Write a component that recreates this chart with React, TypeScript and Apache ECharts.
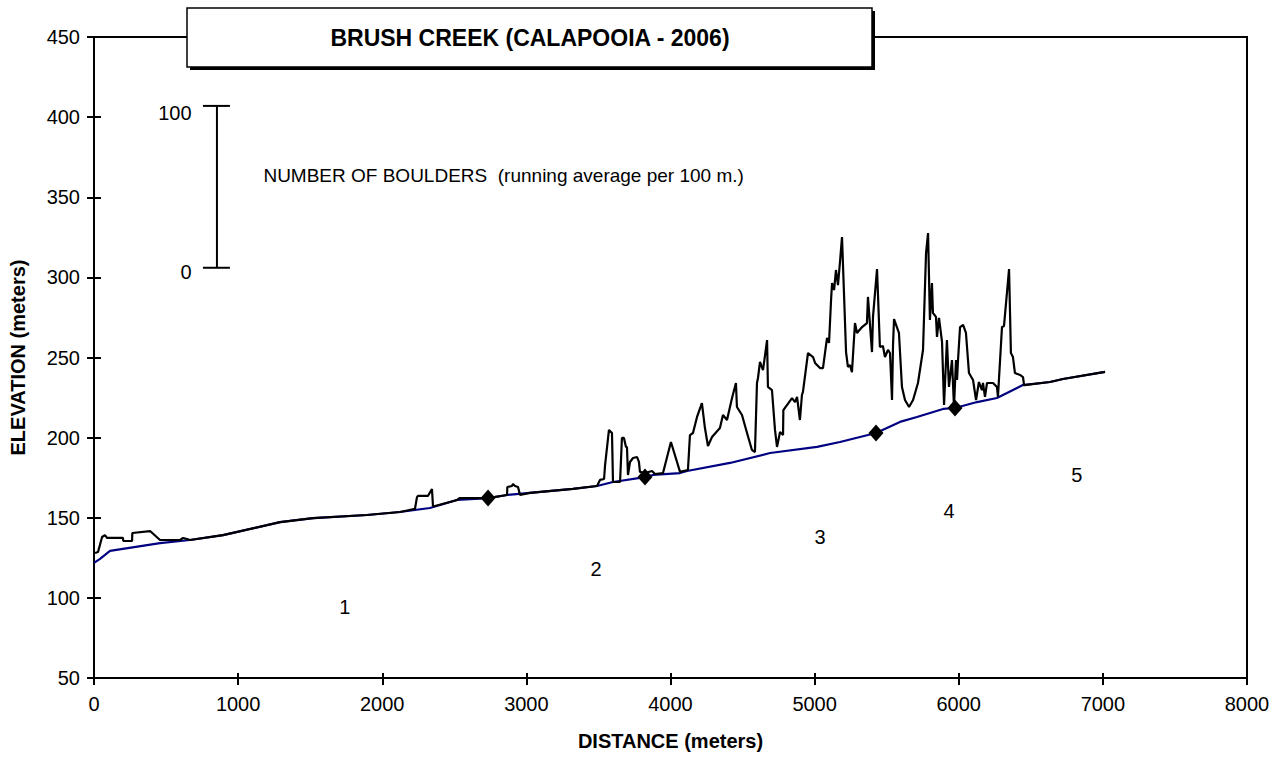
import React, { useEffect, useRef } from "react";
import * as echarts from "echarts";

// Channel elevation profile (distance m, elevation m)
const elevDistance = [0, 42, 111, 458, 666, 895, 1291, 1520, 1894, 2123, 2331, 2519, 2734, 2866, 3025, 3323, 3490, 3601, 3823, 3879, 4066, 4115, 4413, 4691, 5017, 5176, 5426, 5592, 5710, 5891, 5974, 6127, 6265, 6445, 6633, 6723, 7015];
const elevValues = [121.8, 124.3, 129.3, 134.2, 136.1, 139.2, 147.3, 149.8, 151.7, 153.6, 156.1, 161.1, 162.3, 164.2, 165.5, 168.0, 169.8, 172.3, 175.4, 176.7, 177.9, 179.2, 184.2, 190.4, 194.2, 197.3, 202.9, 209.8, 212.9, 217.9, 218.5, 222.2, 224.7, 232.8, 234.7, 236.6, 241.0];

// Boulder running average, plotted on top of the elevation profile (1 boulder = 1 m)
const boulderDistance = [7, 28, 56, 76, 90, 201, 203, 264, 266, 389, 458, 597, 618, 645, 666, 895, 1291, 1520, 1894, 2123, 2227, 2241, 2248, 2317, 2345, 2352, 2366, 2519, 2539, 2734, 2866, 2868, 2900, 2907, 2921, 2942, 2956, 3025, 3323, 3490, 3511, 3539, 3546, 3573, 3594, 3601, 3650, 3663, 3677, 3691, 3698, 3705, 3719, 3740, 3768, 3781, 3788, 3823, 3872, 3892, 3948, 4003, 4066, 4121, 4135, 4156, 4184, 4218, 4239, 4260, 4288, 4343, 4364, 4392, 4427, 4454, 4461, 4496, 4531, 4565, 4586, 4600, 4607, 4621, 4642, 4670, 4676, 4704, 4725, 4739, 4760, 4781, 4783, 4843, 4864, 4878, 4898, 4912, 4919, 4954, 4989, 5003, 5037, 5058, 5086, 5100, 5114, 5121, 5135, 5148, 5162, 5176, 5190, 5218, 5231, 5245, 5259, 5280, 5294, 5329, 5363, 5370, 5398, 5405, 5433, 5453, 5474, 5488, 5509, 5523, 5537, 5544, 5551, 5585, 5606, 5627, 5655, 5683, 5717, 5752, 5773, 5787, 5800, 5814, 5821, 5842, 5849, 5863, 5884, 5898, 5918, 5932, 5953, 5967, 5981, 5988, 5995, 6009, 6030, 6050, 6071, 6099, 6120, 6140, 6161, 6168, 6182, 6196, 6238, 6265, 6272, 6300, 6314, 6349, 6362, 6376, 6390, 6425, 6446, 6453, 6633, 6723, 7015];
const boulderValues = [128.0, 128.6, 138.0, 139.2, 137.4, 137.4, 135.5, 135.5, 140.5, 141.7, 136.1, 136.1, 137.4, 136.7, 136.1, 139.2, 147.3, 149.8, 151.7, 153.6, 155.5, 162.9, 163.6, 163.6, 167.9, 157.3, 157.3, 161.1, 162.3, 162.3, 164.2, 169.2, 169.8, 171.1, 169.8, 169.2, 164.2, 165.5, 168.0, 169.8, 173.6, 174.2, 182.9, 204.8, 202.9, 172.3, 172.3, 199.8, 199.8, 194.2, 194.2, 176.7, 184.8, 187.3, 187.9, 184.8, 178.6, 177.9, 179.2, 177.3, 177.9, 197.3, 178.6, 179.8, 201.6, 202.9, 212.9, 221.6, 206.0, 194.8, 200.4, 206.0, 214.1, 211.0, 224.7, 234.1, 219.1, 214.1, 202.9, 192.3, 191.0, 234.1, 237.2, 247.2, 242.2, 260.9, 231.6, 229.7, 204.8, 194.2, 203.5, 201.6, 217.2, 224.7, 222.2, 225.4, 211.0, 226.6, 228.5, 252.8, 250.3, 246.6, 243.4, 243.4, 262.2, 259.1, 285.9, 296.5, 292.1, 304.6, 295.2, 309.6, 325.2, 253.4, 244.1, 245.3, 240.9, 271.5, 265.3, 269.0, 271.5, 287.8, 253.4, 275.3, 305.2, 256.6, 257.2, 250.3, 254.7, 252.8, 223.5, 257.8, 274.0, 265.3, 231.6, 223.5, 219.1, 223.5, 234.1, 254.7, 315.2, 327.7, 273.4, 296.5, 277.8, 275.3, 262.8, 274.7, 259.7, 220.4, 260.9, 231.6, 248.4, 219.1, 248.4, 236.0, 248.4, 269.0, 270.3, 265.3, 240.3, 236.0, 223.5, 234.7, 229.7, 234.1, 225.4, 234.1, 234.1, 231.6, 225.4, 269.0, 269.7, 305.2, 252.8, 250.3, 240.3, 239.1, 237.8, 232.8, 234.7, 236.6, 241.0];

// Reach boundaries (diamonds)
const boundaryDistance = [2734, 3823, 5426, 5974];
const boundaryElev = [162.3, 175.4, 202.9, 218.5];

// Reach numbers
const reachLabels = ["1", "2", "3", "4", "5"];
const reachX = [1741, 3483, 5037, 5932, 6820];
const reachY = [94.3, 118.0, 138.0, 154.2, 176.7];

// Boulder scale bar (0..100 boulders)
const scaleBarX = 853;
const scaleBarBottom = 306;
const scaleBarTop = 407;
const scaleTickLeft = 756;
const scaleTickRight = 943;
const scaleLabels = ["100", "0"];
const scaleLabelX = 680;
const scaleLabelY = [402.6, 303.4];
const noteText = "NUMBER OF BOULDERS  (running average per 100 m.)";
const notePos = [1172, 363.3];

const titleText = "BRUSH CREEK (CALAPOOIA - 2006)";
const xTicks = { min: 0, max: 8000, interval: 1000 };
const yTicks = { min: 50, max: 450, interval: 50 };

const FONT = "'Liberation Sans', Arial, sans-serif";

export default function App() {
  const ref = useRef<HTMLDivElement>(null);
  useEffect(() => {
    if (!ref.current) return;
    const chart = echarts.init(ref.current, undefined, { renderer: "svg" });
    const elevData = elevDistance.map((d, i) => [d, elevValues[i]]);
    const boulderData = boulderDistance.map((d, i) => [d, boulderValues[i]]);
    const diamondData = boundaryDistance.map((d, i) => [d, boundaryElev[i]]);
    const reachData = reachLabels.map((l, i) => ({ value: [reachX[i], reachY[i]], name: l }));
    const scaleSegs = [
      [scaleBarX, scaleBarBottom, scaleBarX, scaleBarTop],
      [scaleTickLeft, scaleBarTop, scaleTickRight, scaleBarTop],
      [scaleTickLeft, scaleBarBottom, scaleTickRight, scaleBarBottom],
    ];
    const axisCommon = {
      type: "value" as const,
      splitLine: { show: false },
    };
    const hidden = { color: "rgba(0,0,0,0)", opacity: 1 };
    const labelStyle = { fontSize: 20, color: "#000", fontFamily: FONT, opacity: 1 };
    chart.setOption({
      animation: false,
      textStyle: { fontFamily: FONT },
      grid: {
        left: 94,
        right: 37,
        top: 37,
        bottom: 85,
        show: true,
        borderColor: "#000",
        borderWidth: 2,
        backgroundColor: "transparent",
      },
      xAxis: [
        {
          ...axisCommon,
          ...xTicks,
          position: "bottom",
          axisLine: { lineStyle: { color: "#000", width: 2 } },
          axisTick: { length: 7, lineStyle: { color: "#000", width: 2 } },
          axisLabel: { fontSize: 20, color: "#000", margin: 16, fontFamily: FONT, formatter: (v: number) => String(v) },
          name: "DISTANCE (meters)",
          nameLocation: "middle",
          nameGap: 53,
          nameTextStyle: { fontSize: 20, fontWeight: "bold", color: "#000", fontFamily: FONT },
        },
        {
          ...axisCommon,
          ...xTicks,
          position: "bottom",
          axisLine: { show: false },
          axisTick: { inside: true, length: 5, lineStyle: { color: "#000", width: 2 } },
          axisLabel: { show: false },
        },
      ],
      yAxis: [
        {
          ...axisCommon,
          ...yTicks,
          position: "left",
          axisLine: { lineStyle: { color: "#000", width: 2 } },
          axisTick: { length: 7, lineStyle: { color: "#000", width: 2 } },
          axisLabel: { fontSize: 20, color: "#000", margin: 14, fontFamily: FONT, formatter: (v: number) => String(v) },
          name: "ELEVATION (meters)",
          nameLocation: "middle",
          nameGap: 66,
          nameRotate: 90,
          nameTextStyle: { fontSize: 20, fontWeight: "bold", color: "#000", fontFamily: FONT },
        },
        {
          ...axisCommon,
          ...yTicks,
          position: "left",
          axisLine: { show: false },
          axisTick: { inside: true, length: 7, lineStyle: { color: "#000", width: 2 } },
          axisLabel: { show: false },
        },
      ],
      series: [
        {
          type: "line",
          data: elevData,
          symbol: "none",
          lineStyle: { color: "#000080", width: 2.2 },
          z: 2,
        },
        {
          type: "line",
          data: boulderData,
          symbol: "none",
          lineStyle: { color: "#000", width: 2.2 },
          z: 3,
        },
        {
          type: "scatter",
          data: diamondData,
          symbol: "diamond",
          symbolSize: [15, 17],
          itemStyle: { color: "#000", opacity: 1 },
          z: 4,
        },
        {
          type: "scatter",
          data: reachData,
          symbolSize: 1,
          itemStyle: hidden,
          label: {
            show: true,
            position: "inside",
            formatter: (p: any) => p.name,
            ...labelStyle,
          },
          z: 5,
        },
        {
          type: "custom",
          data: scaleSegs,
          renderItem: (params: any, api: any) => {
            const a = api.coord([api.value(0), api.value(1)]);
            const b = api.coord([api.value(2), api.value(3)]);
            return {
              type: "line",
              shape: { x1: a[0], y1: a[1], x2: b[0], y2: b[1] },
              style: { stroke: "#000", lineWidth: 2 },
            };
          },
          z: 5,
        },
        {
          type: "scatter",
          data: scaleLabels.map((l, i) => ({ value: [scaleLabelX, scaleLabelY[i]], name: l })),
          symbolSize: 1,
          itemStyle: hidden,
          label: {
            show: true,
            position: "left",
            distance: 0,
            formatter: (p: any) => p.name,
            ...labelStyle,
          },
          z: 5,
        },
        {
          type: "scatter",
          data: [{ value: notePos, name: noteText }],
          symbolSize: 1,
          itemStyle: hidden,
          label: {
            show: true,
            position: "right",
            distance: 0,
            formatter: (p: any) => p.name,
            ...labelStyle,
            fontSize: 19,
          },
          z: 5,
        },
      ],
      graphic: [
        {
          type: "rect",
          shape: { x: 190, y: 11, width: 685, height: 59 },
          style: { fill: "#000" },
          z: 100,
        },
        {
          type: "rect",
          shape: { x: 187, y: 8, width: 685, height: 59 },
          style: { fill: "#fff", stroke: "#000", lineWidth: 1.5 },
          z: 101,
        },
        {
          type: "text",
          x: 530,
          y: 38,
          style: {
            text: titleText,
            fontSize: 23,
            fontWeight: "bold",
            fontFamily: FONT,
            fill: "#000",
            align: "center",
            verticalAlign: "middle",
          },
          z: 102,
        },
      ],
    });
    return () => chart.dispose();
  }, []);
  return <div ref={ref} style={{ width: 1284, height: 763, position: "absolute", left: 0, top: 0 }} />;
}
